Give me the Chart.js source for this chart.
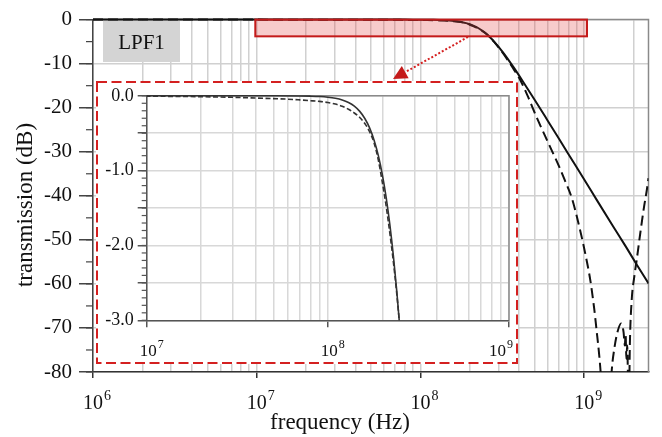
<!DOCTYPE html>
<html>
<head>
<meta charset="utf-8">
<script src="https://cdn.jsdelivr.net/npm/chart.js@4"></script>
<style>
  body { margin: 0; background: #fff; }
  #wrap { position: relative; width: 662px; height: 437px; }
  #main { position: absolute; left: 0; top: 0; }
  #inset { position: absolute; left: 96px; top: 81px; }
</style>
</head>
<body>
<div id="wrap">
  <canvas id="main" width="662" height="437"></canvas>
  <canvas id="inset" width="422" height="283"></canvas>
</div>
<script>
// Solid curve (frequency in Hz, transmission in dB)
const freqSolid = [1e6, 3e6, 1e7, 3e7, 5e7, 7e7, 8e7, 9e7, 1e8, 1.1e8,
                   1.2e8, 1.3e8, 1.4e8, 1.5e8, 1.6e8, 1.7e8, 1.8e8, 1.9e8, 2.0e8, 2.1e8,
                   2.2e8, 2.3e8, 2.4e8, 2.5e8, 2.6e8, 2.8e8, 3.2e8, 3.7e8, 4.3e8, 5e8,
                   6e8, 7e8, 8e8, 1e9, 1.2e9, 1.5e9, 1.8e9, 2.1e9, 2.47e9];
const dbSolid   = [0, 0, 0, 0, 0, -0.002, -0.005, -0.01, -0.019, -0.033,
                   -0.055, -0.089, -0.138, -0.208, -0.303, -0.429, -0.593, -0.8, -1.056, -1.363,
                   -1.724, -2.139, -2.604, -3.115, -3.669, -4.87, -7.49, -10.8, -14.5, -18.3,
                   -23.0, -27.0, -30.5, -36.3, -41.1, -46.9, -51.6, -55.7, -59.9];

// Dashed curve
const freqDashed = [1e6, 1e7, 2e7, 3e7, 4e7, 5e7, 6e7, 7e7, 8e7, 9e7,
                    1e8, 1.1e8, 1.2e8, 1.3e8, 1.4e8, 1.5e8, 1.6e8, 1.7e8, 1.8e8, 1.9e8,
                    2.0e8, 2.1e8, 2.2e8, 2.3e8, 2.4e8, 2.5e8, 2.6e8, 2.8e8, 3.2e8, 3.7e8,
                    4.0e8, 4.5e8, 5.1e8, 6e8, 7e8, 7.6e8, 8.4e8, 9.4e8, 1.02e9, 1.09e9,
                    1.15e9, 1.19e9, 1.23e9, 1.26e9, 1.3e9, 1.36e9, 1.42e9, 1.47e9, 1.53e9, 1.6e9,
                    1.68e9, 1.74e9, 1.77e9, 1.79e9, 1.81e9, 1.83e9, 1.85e9, 1.87e9, 1.9e9, 1.95e9,
                    2.02e9, 2.09e9, 2.2e9, 2.32e9, 2.41e9, 2.47e9];
const dbDashed   = [0, -0.005, -0.012, -0.02, -0.03, -0.038, -0.045, -0.055, -0.065, -0.075,
                    -0.09, -0.11, -0.14, -0.18, -0.23, -0.29, -0.37, -0.48, -0.63, -0.86,
                    -1.16, -1.48, -1.84, -2.22, -2.64, -3.12, -3.68, -4.95, -7.7, -11.2,
                    -13.2, -17.2, -22.0, -27.8, -33.2, -36.4, -40.5, -47.5, -53.5, -59.2,
                    -65.5, -70.5, -75.5, -80, -88, -105, -90, -80, -74.5, -70.8,
                    -69.0, -71, -74, -71.5, -77, -74, -81, -92, -74, -63.7,
                    -58.5, -54.7, -48.5, -42.5, -38.8, -36];

// Axis ranges
const mainX = [1e6, 2.47e9];
const mainY = [-80, 0];
const insetX = [1e7, 1e9];
const insetY = [-3, 0];

const serif = "'Liberation Serif', 'Times New Roman', serif";
const red = '#d42020';

function isDecade(v) {
    const e = Math.log10(v);
    return Math.abs(e - Math.round(e)) < 1e-9;
}
// 1..9 x 10^n ticks for the log axes
function logTicks(scale) {
    const ticks = [];
    for (let e = Math.floor(Math.log10(scale.min)); e <= Math.ceil(Math.log10(scale.max)); e++) {
        for (let m = 1; m < 10; m++) {
            const v = m * Math.pow(10, e);
            if (v >= scale.min * 0.999 && v <= scale.max * 1.001) ticks.push({value: v});
        }
    }
    scale.ticks = ticks;
}
function points(fs, ds) {
    return fs.map((f, i) => ({x: f, y: ds[i]}));
}

// gray top/right frame and small minor ticks on the y axis
const frame = {
    id: 'frame',
    beforeDatasetsDraw(chart, args, opts) {
        const {ctx, chartArea: a} = chart;
        const y = chart.scales.y;
        ctx.save();
        ctx.strokeStyle = '#8a8a8a';
        ctx.lineWidth = 1.5;
        ctx.beginPath();
        ctx.moveTo(a.left, a.top);
        ctx.lineTo(a.right, a.top);
        ctx.lineTo(a.right, a.bottom);
        ctx.stroke();
        ctx.strokeStyle = opts.tickColor;
        ctx.lineWidth = 1.2;
        const n = Math.round((y.max - y.min) / opts.minorStep);
        for (let i = 0; i <= n; i++) {
            const py = y.getPixelForValue(y.min + i * opts.minorStep);
            ctx.beginPath();
            ctx.moveTo(a.left - opts.minorLen, py);
            ctx.lineTo(a.left, py);
            ctx.stroke();
        }
        ctx.restore();
    }
};

// 10^n labels under the decade ticks, with a real superscript
const powerLabels = {
    id: 'powerLabels',
    afterDraw(chart, args, o) {
        const {ctx, scales: {x}} = chart;
        ctx.save();
        ctx.fillStyle = '#111';
        ctx.textBaseline = 'alphabetic';
        ctx.textAlign = 'left';
        x.ticks.filter(t => isDecade(t.value)).forEach(t => {
            const exp = String(Math.round(Math.log10(t.value)));
            ctx.font = o.size + 'px ' + serif;
            const w1 = ctx.measureText('10').width;
            ctx.font = o.supSize + 'px ' + serif;
            const w2 = ctx.measureText(exp).width;
            const w = w1 + 1 + w2;
            let left = x.getPixelForValue(t.value) + o.shift - w / 2;
            left = Math.max(left, 2);
            left = Math.min(left, chart.width - o.edge - w);
            ctx.font = o.size + 'px ' + serif;
            ctx.fillText('10', left, x.top + o.base);
            ctx.font = o.supSize + 'px ' + serif;
            ctx.fillText(exp, left + w1 + 1, x.top + o.supBase);
        });
        ctx.restore();
    }
};

// LPF1 tag, inset frame, zoom box, arrow and axis titles on the main chart
const decorations = {
    id: 'decorations',
    beforeDatasetsDraw(chart) {
        const ctx = chart.ctx;
        ctx.save();
        ctx.fillStyle = '#d4d4d4';
        ctx.fillRect(103, 21, 77, 41);
        ctx.fillStyle = '#111';
        ctx.font = '21px ' + serif;
        ctx.textAlign = 'center';
        ctx.textBaseline = 'middle';
        ctx.fillText('LPF1', 141.5, 43);

        ctx.fillStyle = '#fff';
        ctx.fillRect(96, 81, 422, 283);
        ctx.strokeStyle = red;
        ctx.lineWidth = 2;
        ctx.setLineDash([10, 4.5]);
        ctx.strokeRect(97, 82, 420, 281);
        ctx.restore();
    },
    afterDatasetsDraw(chart) {
        const {ctx, scales: {x, y}} = chart;
        const x0 = x.getPixelForValue(0.98e7), x1 = x.getPixelForValue(1.04e9);
        const y0 = y.getPixelForValue(0), y1 = y.getPixelForValue(-3.8);
        ctx.save();
        ctx.fillStyle = 'rgba(228, 70, 70, 0.28)';
        ctx.fillRect(x0, y0, x1 - x0, y1 - y0);
        ctx.strokeStyle = '#c41a1a';
        ctx.lineWidth = 2;
        ctx.strokeRect(x0, y0, x1 - x0, y1 - y0);

        // dotted arrow towards the inset
        const sx = 468, sy = 37, tx = 393, ty = 79;
        const len = Math.hypot(tx - sx, ty - sy);
        const ux = (tx - sx) / len, uy = (ty - sy) / len;
        const bx = tx - ux * 14, by = ty - uy * 14;
        ctx.setLineDash([2, 2]);
        ctx.strokeStyle = red;
        ctx.lineWidth = 2;
        ctx.beginPath();
        ctx.moveTo(sx, sy);
        ctx.lineTo(bx, by);
        ctx.stroke();
        ctx.setLineDash([]);
        ctx.fillStyle = '#c41a1a';
        ctx.beginPath();
        ctx.moveTo(tx, ty);
        ctx.lineTo(bx - uy * 7, by + ux * 7);
        ctx.lineTo(bx + uy * 7, by - ux * 7);
        ctx.closePath();
        ctx.fill();
        ctx.restore();
    },
    afterDraw(chart) {
        const ctx = chart.ctx;
        ctx.save();
        ctx.fillStyle = '#111';
        ctx.font = '23px ' + serif;
        ctx.textAlign = 'center';
        ctx.textBaseline = 'middle';
        ctx.fillText('frequency (Hz)', 340, 423);
        ctx.translate(26, 205);
        ctx.rotate(-Math.PI / 2);
        ctx.fillText('transmission (dB)', 0, 0);
        ctx.restore();
    }
};

new Chart(document.getElementById('main'), {
    type: 'line',
    data: {
        datasets: [
            { data: points(freqSolid, dbSolid), borderColor: '#111', borderWidth: 2,
              pointRadius: 0, cubicInterpolationMode: 'monotone', clip: {left: 0, top: 2, right: 0, bottom: 0} },
            { data: points(freqDashed, dbDashed), borderColor: '#111', borderWidth: 2, borderDash: [10, 5],
              pointRadius: 0, cubicInterpolationMode: 'monotone', clip: {left: 0, top: 2, right: 0, bottom: 0} }
        ]
    },
    options: {
        responsive: false,
        animation: false,
        layout: { padding: { top: 18, right: 13.5, left: 0, bottom: 0 } },
        scales: {
            x: {
                type: 'logarithmic', min: mainX[0], max: mainX[1],
                afterBuildTicks: logTicks,
                afterFit: s => { s.height = 65; },
                ticks: { display: false, autoSkip: false },
                grid: { color: '#d0d0d0', lineWidth: 1.5, tickLength: 6,
                        tickColor: c => isDecade(c.tick.value) ? '#333' : 'rgba(0,0,0,0)' },
                border: { color: '#333', width: 1.5 }
            },
            y: {
                min: mainY[0], max: mainY[1],
                afterFit: s => { s.width = 93; },
                ticks: { stepSize: 10, padding: 7, color: '#111', font: { family: serif, size: 21 } },
                grid: { color: '#d0d0d0', lineWidth: 1.5, tickLength: 14, tickColor: '#444' },
                border: { color: '#444', width: 1.5 }
            }
        },
        plugins: {
            legend: { display: false },
            tooltip: { enabled: false },
            frame: { minorStep: 5, minorLen: 7, tickColor: '#444' },
            powerLabels: { size: 20, supSize: 14, base: 36.5, supBase: 27.5, shift: 4, edge: 4 }
        }
    },
    plugins: [frame, decorations, powerLabels]
});

new Chart(document.getElementById('inset'), {
    type: 'line',
    data: {
        datasets: [
            { data: points(freqSolid, dbSolid), borderColor: '#333', borderWidth: 1.6,
              pointRadius: 0, cubicInterpolationMode: 'monotone', clip: {left: 0, top: 2, right: 0, bottom: 0} },
            { data: points(freqDashed, dbDashed), borderColor: '#333', borderWidth: 1.6, borderDash: [5, 2.5],
              pointRadius: 0, cubicInterpolationMode: 'monotone', clip: {left: 0, top: 2, right: 0, bottom: 0} }
        ]
    },
    options: {
        responsive: false,
        animation: false,
        layout: { padding: { top: 11, right: 9, left: 0, bottom: 0 } },
        scales: {
            x: {
                type: 'logarithmic', min: insetX[0], max: insetX[1],
                afterBuildTicks: logTicks,
                afterFit: s => { s.height = 43.7; },
                ticks: { display: false, autoSkip: false },
                grid: { color: '#d8d8d8', lineWidth: 1.5, tickLength: 7,
                        tickColor: c => isDecade(c.tick.value) ? '#555' : 'rgba(0,0,0,0)' },
                border: { color: '#555', width: 1.5 }
            },
            y: {
                min: insetY[0], max: insetY[1],
                afterFit: s => { s.width = 50.7; },
                ticks: { stepSize: 0.5, padding: 4, color: '#111', font: { family: serif, size: 18 },
                         callback: v => Number.isInteger(v) ? v.toFixed(1) : '' },
                grid: { color: '#d8d8d8', lineWidth: 1.5, tickLength: 9, tickColor: '#555' },
                border: { color: '#555', width: 1.5 }
            }
        },
        plugins: {
            legend: { display: false },
            tooltip: { enabled: false },
            frame: { minorStep: 0.1, minorLen: 5, tickColor: '#555' },
            powerLabels: { size: 17, supSize: 12, base: 35.5, supBase: 27.5, shift: 5, edge: 5 }
        }
    },
    plugins: [frame, powerLabels]
});
</script>
</body>
</html>
